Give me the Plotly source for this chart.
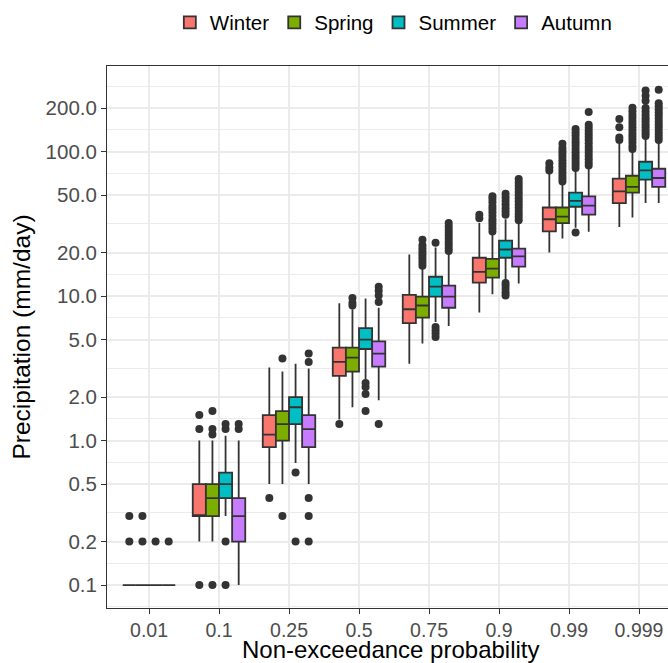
import plotly.graph_objects as go

categories = ["0.01", "0.1", "0.25", "0.5", "0.75", "0.9", "0.99", "0.999"]
seasons = ["Winter", "Spring", "Summer", "Autumn"]
colors = ["#F8766D", "#7CAE00", "#00BFC4", "#C77CFF"]

# box statistics per season (values in mm/day), one per category
winter_q1 = [0.1, 0.3, 0.9, 2.8, 6.5, 12.4, 28, 44]
winter_med = [0.1, 0.3, 1.1, 3.5, 8.1, 14.7, 34, 53]
winter_q3 = [0.1, 0.5, 1.5, 4.4, 10.2, 18.4, 41, 65]
winter_lo = [0.1, 0.2, 0.5, 1.4, 3.4, 7.7, 20, 30]
winter_hi = [0.1, 1.0, 3.2, 8.9, 19.4, 32, 70, 113]
winter_out = [
    [0.2, 0.3], [0.1, 1.2, 1.5], [0.4], [1.3], [], [34.5, 36.5],
    [74, 78, 83], [120, 125, 147, 168],
]

spring_q1 = [0.1, 0.3, 1.0, 3.0, 7.1, 13.4, 32, 52]
spring_med = [0.1, 0.4, 1.3, 3.75, 8.6, 15.5, 35.5, 57]
spring_q3 = [0.1, 0.5, 1.6, 4.4, 9.9, 18.1, 41, 68]
spring_lo = [0.1, 0.2, 0.5, 1.7, 4.7, 10.3, 25, 35]
spring_hi = [0.1, 1.0, 3.0, 8.1, 15.5, 27, 60, 101]
spring_out = [
    [0.2, 0.3], [0.1, 1.1, 1.2, 1.6], [0.3, 3.7], [8.6, 9.0, 9.7],
    [16.2, 17, 17.8, 18.6, 19.5, 20.4, 21.4, 22.5, 24.5],
    [28, 29.5, 31, 32.5, 34, 36, 38, 40, 42, 44.5, 47, 49],
    [62, 65, 68, 71.5, 75, 79, 83, 87, 91.5, 96, 101, 106, 113],
    [104, 109, 115, 121, 127, 133, 140, 147, 155, 163, 171, 180, 190, 201],
]

summer_q1 = [0.1, 0.4, 1.3, 4.3, 9.9, 18.4, 41.5, 64]
summer_med = [0.1, 0.5, 1.7, 5.0, 11.6, 21, 45.6, 74]
summer_q3 = [0.1, 0.6, 2.0, 6.0, 13.6, 24.2, 52, 85]
summer_lo = [0.1, 0.3, 0.7, 2.65, 6.6, 12.8, 29.7, 44]
summer_hi = [0.1, 1.08, 3.4, 9.6, 21.7, 34, 74, 124]
summer_out = [
    [0.2], [0.1, 0.2, 1.2, 1.3], [0.2, 0.6], [1.6, 2.1, 2.35, 2.5],
    [5.2, 5.5, 5.8, 6.1, 23.4],
    [10.1, 10.6, 11.2, 11.8, 12.3, 36.5, 38.5, 40.5, 43, 45.5, 48, 51],
    [27.5, 77, 81, 85, 89.5, 94, 99, 104, 110, 116, 122, 129, 136, 143],
    [128, 134, 140, 147, 154, 162, 170, 179, 189, 200, 225, 243, 264],
]

autumn_q1 = [0.1, 0.2, 0.9, 3.25, 8.3, 16, 36.6, 57]
autumn_med = [0.1, 0.3, 1.2, 4.0, 9.9, 18.8, 42.3, 65.6]
autumn_q3 = [0.1, 0.4, 1.5, 4.85, 11.8, 21.3, 49, 76]
autumn_lo = [0.1, 0.1, 0.5, 1.9, 6.2, 12.2, 27.9, 44]
autumn_hi = [0.1, 1.0, 3.15, 8.3, 19.5, 32, 76, 116]
autumn_out = [
    [0.2], [1.2, 1.3], [0.2, 0.3, 0.4, 3.5, 4.0], [1.3, 9.1, 10.1, 10.9, 11.6],
    [20.5, 21.5, 22.6, 23.7, 24.9, 26.1, 27.4, 28.8, 30.3, 32],
    [33.5, 35.2, 37, 39, 41, 43, 45.3, 47.6, 50, 52.5, 55.2, 58, 61, 64.5],
    [80, 84, 88.5, 93, 98, 103, 108, 114, 120, 126, 132, 139, 146, 153, 188],
    [120, 126, 132, 139, 146, 153, 161, 169, 178, 187, 196, 206, 216, 268],
]

y_tickvals = [0.1, 0.2, 0.5, 1, 2, 5, 10, 20, 50, 100, 200]
y_ticktext = ["0.1", "0.2", "0.5", "1.0", "2.0", "5.0", "10.0", "20.0", "50.0", "100.0", "200.0"]
y_minor = [0.0707, 0.1414, 0.3162, 0.7071, 1.414, 3.162, 7.071, 14.14, 31.62, 70.71, 141.4, 283]
x_title = "Non-exceedance probability"
y_title = "Precipitation (mm/day)"

stats = [
    (winter_q1, winter_med, winter_q3, winter_lo, winter_hi, winter_out),
    (spring_q1, spring_med, spring_q3, spring_lo, spring_hi, spring_out),
    (summer_q1, summer_med, summer_q3, summer_lo, summer_hi, summer_out),
    (autumn_q1, autumn_med, autumn_q3, autumn_lo, autumn_hi, autumn_out),
]

fig = go.Figure()
for name, col, (q1, med, q3, lo, hi, out) in zip(seasons, colors, stats):
    fig.add_trace(go.Box(
        name=name,
        x=categories,
        q1=q1, median=med, q3=q3, lowerfence=lo, upperfence=hi,
        y=out,
        boxpoints="outliers", jitter=0, pointpos=0,
        fillcolor=col,
        line=dict(color="#333333", width=1.8),
        marker=dict(color="#333333", size=8, line=dict(width=0)),
        whiskerwidth=0,
    ))

FONT = "Liberation Sans, Arial, sans-serif"
fig.update_layout(
    width=668, height=663,
    margin=dict(l=107, r=0, t=66, b=55),
    paper_bgcolor="white", plot_bgcolor="white",
    boxmode="group", boxgap=0.25, boxgroupgap=0.0,
    font=dict(family=FONT, color="#000000"),
    legend=dict(
        orientation="h", x=0.112, xanchor="left", y=1.08, yanchor="middle",
        font=dict(size=20.5, color="#000000"), itemwidth=30, traceorder="normal",
    ),
    xaxis=dict(
        type="category", range=[-0.6, 7.414], automargin=False,
        showgrid=True, gridcolor="#EBEBEB", gridwidth=1.5,
        showline=True, linecolor="#333333", linewidth=1, mirror=True,
        ticks="outside", ticklen=5, tickcolor="#333333",
        tickfont=dict(size=19.5, color="#4D4D4D"),
        zeroline=False,
    ),
    yaxis=dict(
        type="log", range=[-1.159, 2.592], automargin=False,
        tickmode="array", tickvals=y_tickvals, ticktext=y_ticktext,
        showgrid=True, gridcolor="#EBEBEB", gridwidth=1.5,
        minor=dict(tickmode="array", tickvals=y_minor, showgrid=True, gridcolor="#EBEBEB", gridwidth=1, ticks=""),
        showline=True, linecolor="#333333", linewidth=1, mirror=False,
        ticks="outside", ticklen=5, tickcolor="#333333",
        tickfont=dict(size=20.5, color="#4D4D4D"),
        title=dict(text=y_title, font=dict(size=24.5, color="#000000"), standoff=8),
        zeroline=False,
    ),
    annotations=[dict(
        text=x_title, xref="paper", yref="paper", x=0.506, y=0,
        xanchor="center", yanchor="top", yshift=-26, showarrow=False,
        font=dict(size=24, color="#000000", family=FONT),
    )],
)

fig.write_html("out.html")
